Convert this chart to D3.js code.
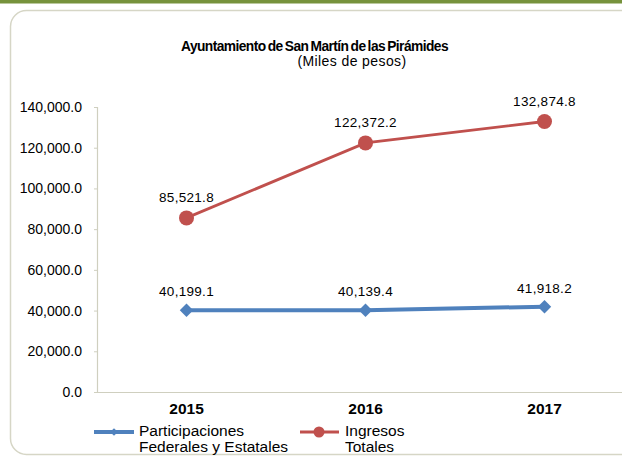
<!DOCTYPE html>
<html><head><meta charset="utf-8">
<script src="https://cdn.jsdelivr.net/npm/d3@7"></script>
<style>html,body{margin:0;padding:0;background:#fff;}svg{display:block;font-family:"Liberation Sans",Arial,sans-serif;}</style>
</head><body>
<svg id="c" width="622" height="456"></svg>
<script>
const years = ["2015", "2016", "2017"];
const participaciones = [40199.1, 40139.4, 41918.2];
const ingresos = [85521.8, 122372.2, 132874.8];
const yTicks = [0, 20000, 40000, 60000, 80000, 100000, 120000, 140000];
const seriesNames = [["Participaciones", "Federales y Estatales"], ["Ingresos", "Totales"]];

const svg = d3.select("#c");
// top green bar
svg.append("rect").attr("x", 0).attr("y", 0).attr("width", 622).attr("height", 3.5).attr("fill", "#76923c");
// frame
svg.append("rect").attr("x", 10.5).attr("y", 10.5).attr("width", 640).attr("height", 444).attr("rx", 16)
  .attr("fill", "none").attr("stroke", "#d6d6c6").attr("stroke-width", 1.5);

const x = d3.scaleBand().domain(years).range([97, 634]);
const y = d3.scaleLinear().domain([0, 140000]).range([392, 107]);
const fmt = d3.format(",.1f");

// title
svg.append("text").attr("x", 181).attr("y", 51)
  .attr("font-size", 14.5).attr("font-weight", "bold").attr("fill", "#000")
  .attr("word-spacing", -1.2).attr("letter-spacing", -0.6)
  .attr("textLength", 267).attr("lengthAdjust", "spacingAndGlyphs")
  .text("Ayuntamiento de San Martín de las Pirámides");
svg.append("text").attr("x", 352).attr("y", 66).attr("text-anchor", "middle")
  .attr("font-size", 14).attr("fill", "#000").attr("letter-spacing", 0.4)
  .text("(Miles de pesos)");

// y axis
const ya = svg.append("g").attr("transform", "translate(97,0)")
  .call(d3.axisLeft(y).tickValues(yTicks).tickFormat(fmt).tickSize(3).tickPadding(12));
ya.select(".domain").attr("stroke", "#cfcfbf").attr("stroke-width", 1.2);
ya.selectAll(".tick line").attr("stroke", "#cfcfbf");
ya.selectAll("text").attr("font-size", 14).attr("fill", "#000").attr("font-family", "Liberation Sans, Arial, sans-serif");

// x axis
const xa = svg.append("g").attr("transform", "translate(0,392)")
  .call(d3.axisBottom(x).tickSize(0).tickPadding(11));
xa.select(".domain").attr("stroke", "#cfcfbf").attr("stroke-width", 1.2);
xa.selectAll("text").attr("font-size", 15.5).attr("font-weight", "bold").attr("fill", "#000")
  .attr("font-family", "Liberation Sans, Arial, sans-serif");

const cx = d => x(d) + x.bandwidth() / 2;
const line = d3.line().x((d, i) => cx(years[i])).y(d => y(d));

// Ingresos line
svg.append("path").datum(ingresos).attr("d", line).attr("fill", "none").attr("stroke", "#c0504d").attr("stroke-width", 2.8);
svg.selectAll(".ic").data(ingresos).enter().append("circle")
  .attr("cx", (d, i) => cx(years[i])).attr("cy", d => y(d)).attr("r", 7.5).attr("fill", "#c0504d");
svg.selectAll(".il").data(ingresos).enter().append("text")
  .attr("x", (d, i) => cx(years[i])).attr("y", d => y(d) - 16).attr("text-anchor", "middle")
  .attr("font-size", 13.5).attr("fill", "#000").attr("letter-spacing", 0.3).text(d => fmt(d));

// Participaciones line
svg.append("path").datum(participaciones).attr("d", line).attr("fill", "none").attr("stroke", "#4f81bd").attr("stroke-width", 4);
const diamond = d3.symbol().type(d3.symbolSquare).size(90);
svg.selectAll(".pd").data(participaciones).enter().append("path")
  .attr("transform", (d, i) => `translate(${cx(years[i])},${y(d)}) rotate(45)`).attr("d", diamond).attr("fill", "#4f81bd");
svg.selectAll(".pl").data(participaciones).enter().append("text")
  .attr("x", (d, i) => cx(years[i])).attr("y", d => y(d) - 14).attr("text-anchor", "middle")
  .attr("font-size", 13.5).attr("fill", "#000").attr("letter-spacing", 0.3).text(d => fmt(d));

// legend
const lg = svg.append("g");
lg.append("line").attr("x1", 94).attr("x2", 134).attr("y1", 432).attr("y2", 432).attr("stroke", "#4f81bd").attr("stroke-width", 4);
lg.append("path").attr("transform", "translate(114,432) rotate(45)").attr("d", d3.symbol().type(d3.symbolSquare).size(30)).attr("fill", "#4f81bd");
lg.append("line").attr("x1", 300).attr("x2", 339).attr("y1", 432).attr("y2", 432).attr("stroke", "#c0504d").attr("stroke-width", 2.8);
lg.append("circle").attr("cx", 319).attr("cy", 432).attr("r", 5.5).attr("fill", "#c0504d");
[[139, seriesNames[0]], [345, seriesNames[1]]].forEach(([lx, names]) => {
  names.forEach((n, j) => {
    lg.append("text").attr("x", lx).attr("y", 436 + j * 16).attr("font-size", 15.5).attr("fill", "#000").text(n);
  });
});
</script>
</body></html>
